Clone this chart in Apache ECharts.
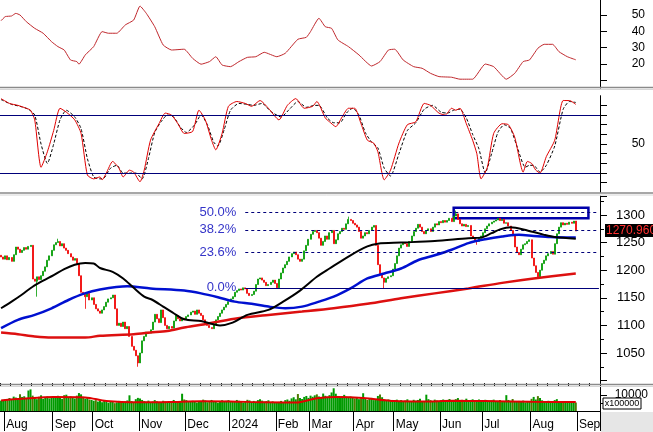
<!DOCTYPE html>
<html><head><meta charset="utf-8">
<script src="https://cdn.jsdelivr.net/npm/echarts@6/dist/echarts.min.js"></script>
<style>html,body{margin:0;padding:0;background:#fff}#c{width:653px;height:432px}</style>
</head><body><div id="c"></div><script>
// ---- categories (trading days per month) ----
const monthLabels = ['', 'Aug','Sep','Oct','Nov','Dec','2024','Feb','Mar','Apr','May','Jun','Jul','Aug','Sep'];
const monthDays   = [2, 23, 19, 22, 22, 21, 22, 16, 21, 19, 22, 20, 23, 22, 11];

// ---- daily closes ----
const closes = [
1224,1220,1226,1219,1223,1216,1228,1242,1238,1232,
1236,1241,1238,1243,1245,1184,1180,1188,1183,1190,
1198,1206,1218,1226,1236,1246,1250,1252,1244,1248,
1240,1236,1230,1224,1218,1221,1212,1190,1160,1156,
1152,1158,1146,1150,1138,1130,1126,1122,1128,1134,
1142,1148,1150,1155,1130,1100,1104,1098,1106,1094,
1098,1080,1062,1055,1045,1032,1050,1072,1080,1088,
1086,1092,1106,1120,1112,1105,1128,1114,1100,1094,
1098,1095,1108,1118,1112,1108,1113,1110,1116,1119,
1124,1126,1120,1128,1122,1118,1110,1104,1100,1096,
1094,1102,1110,1116,1122,1128,1133,1138,1143,1148,
1152,1160,1163,1166,1164,1168,1166,1158,1154,1156,
1162,1174,1184,1186,1182,1178,1172,1174,1178,1182,
1176,1168,1184,1195,1204,1210,1216,1224,1230,1233,
1228,1220,1216,1220,1235,1245,1256,1265,1270,1272,
1268,1258,1245,1252,1262,1256,1268,1272,1248,1255,
1266,1270,1276,1274,1284,1292,1290,1285,1282,1278,
1270,1258,1262,1268,1266,1272,1278,1281,1245,1210,
1192,1186,1178,1185,1188,1190,1202,1212,1226,1240,
1246,1250,1248,1243,1252,1262,1270,1276,1283,1278,
1270,1266,1272,1275,1270,1278,1284,1282,1288,1286,
1290,1287,1290,1294,1288,1298,1302,1292,1284,1280,
1283,1279,1281,1262,1258,1254,1252,1258,1262,1268,
1275,1280,1284,1287,1289,1291,1294,1290,1292,1285,
1286,1280,1272,1262,1242,1232,1228,1238,1246,1248,
1252,1255,1222,1208,1196,1188,1200,1212,1218,1226,
1230,1234,1229,1248,1266,1278,1286,1282,1285,1283,
1287,1285,1289,1270.96];
const lowWicks  = [[17,1152],[40,1130],[65,1025],[182,1167],[226,1246],[255,1186]];
const highWicks = [[27,1257],[165,1297],[216,1308]];

// ---- moving averages [dayIndex, value] ----
const ma50 = [[0,1131],[5,1143],[10,1156],[15,1170],[20,1181],[25,1191],[30,1202],[35,1210],[40,1213],[44,1212],[47,1204],[53,1197],[58,1185],[63,1168],[68,1152],[72,1146],[77,1134],[82,1122],[87,1111],[95,1108],[104,1100],[110,1105],[117,1119],[127,1128],[134,1143],[142,1163],[150,1188],[156,1203],[166,1227],[174,1243],[179,1248],[190,1250],[206,1253],[222,1258],[228,1259],[233,1267],[237,1274],[242,1278],[250,1272],[258,1264],[263,1260],[273,1257]];
const ma100 = [[0,1095],[8,1110],[16,1119],[24,1131],[32,1146],[39,1157],[47,1165],[60,1171],[71,1167],[87,1163],[95,1158],[103,1151],[111,1143],[119,1139],[127,1134],[135,1131],[143,1134],[151,1143],[158,1152],[166,1167],[174,1185],[182,1194],[190,1203],[198,1218],[206,1227],[214,1237],[222,1249],[230,1256],[238,1261],[246,1264],[253,1262],[261,1260],[273,1259]];
const ma200 = [[0,1087],[8,1084],[16,1080],[24,1078],[40,1078],[47,1081],[63,1084],[71,1087],[79,1090],[87,1096],[95,1101],[111,1112],[127,1119],[143,1125],[158,1131],[174,1139],[190,1149],[206,1158],[222,1167],[238,1177],[253,1185],[273,1194]];

// ---- fibonacci levels & box ----
const fibPct   = ['50.0%','38.2%','23.6%','0.0%'];
const fibPrice = [1305, 1273, 1233, 1168];
const fibStartDay = 116;
const boxDays  = [215, 279];
const boxPrice = [1313, 1294];
const priceLabels = [1050, 1100, 1150, 1200, 1250, 1300];

// ---- top indicator (ADX-like) ----
const adx = [[0,46.5],[2,49],[5,49.4],[7,51],[9,50],[12,45.9],[16,41.8],[20,38.8],[24,33.6],[27,30.6],[30,28.5],[33,22.4],[36,21.4],[37,19.8],[40,25.5],[44,30.6],[48,39.8],[51,38.8],[55,38.8],[59,43.9],[63,46.9],[66,55.5],[69,51],[73,42.8],[77,31.6],[81,28.5],[87,29],[91,23.4],[95,19.8],[99,21.4],[102,24.4],[105,19.3],[109,18.3],[113,21.4],[117,24],[121,24.4],[125,27.1],[131,24.4],[135,26.5],[141,35.1],[145,36.3],[147,39.8],[151,48],[154,42.8],[157,41.8],[160,34.7],[165,30.6],[170,25.5],[176,18.7],[180,21.4],[184,28.5],[187,29],[191,22.4],[196,18.3],[200,17.3],[204,14.2],[208,12.2],[214,11.8],[218,10.6],[224,10.6],[230,19.9],[234,18.3],[240,10.6],[244,14.2],[248,21.4],[251,22.4],[255,29.6],[258,32],[262,32],[265,27.5],[269,24.4],[273,22.5]];

// ---- stochastic ----
const stochK = [[0,97],[4,92],[8,90],[12,87],[14,85],[16,75],[19,26],[22,42],[25,64],[28,87],[31,83],[35,75],[38,61],[41,18],[44,14],[47,16],[48,13],[50,20],[53,32],[56,25],[58,16],[61,23],[63,21],[66,11],[68,23],[71,54],[75,71],[78,82],[81,80],[84,71],[87,61],[91,63],[94,85],[97,75],[100,54],[102,44],[105,61],[108,89],[112,94],[116,92],[119,89],[123,95],[127,87],[132,75],[136,90],[140,97],[144,87],[148,89],[150,94],[154,77],[156,73],[159,68],[162,78],[165,87],[168,87],[171,71],[174,54],[177,51],[179,42],[182,13],[185,23],[189,51],[193,70],[197,73],[201,92],[204,90],[208,82],[211,80],[214,87],[216,85],[218,87],[221,71],[224,54],[226,40],[228,14],[231,26],[234,61],[238,71],[241,70],[244,57],[248,21],[250,32],[252,30],[254,23],[256,20],[259,37],[263,54],[267,95],[270,95],[273,91]];
const stochD = [[0,96],[5,91],[9,89],[13,86],[16,80],[19,50],[22,30],[25,50],[28,75],[31,85],[35,78],[38,66],[41,35],[44,16],[47,14],[49,15],[52,25],[55,28],[58,20],[61,20],[64,20],[67,14],[70,35],[73,62],[76,73],[79,80],[82,78],[85,68],[88,62],[92,70],[95,80],[98,70],[101,52],[103,48],[106,65],[109,85],[113,92],[117,91],[120,90],[124,92],[128,84],[133,78],[137,86],[141,94],[145,88],[149,90],[151,90],[155,77],[158,72],[161,72],[164,82],[167,87],[170,80],[173,62],[176,52],[179,46],[182,25],[185,17],[189,40],[193,64],[197,72],[201,86],[205,90],[209,83],[212,82],[215,85],[218,86],[221,77],[224,60],[227,45],[230,20],[233,40],[236,62],[239,70],[242,66],[245,48],[249,26],[251,28],[253,28],[256,21],[259,28],[263,48],[267,86],[270,94],[273,93]];
const stochBands = [80, 20];

// ---- volume (x100000, in thousands) ----
const volume = [
6.5,7.0,
7.2,6.8,8.1,7.5,9.0,8.4,7.7,10.5,8.8,9.2,8.0,12.8,13.5,9.6,8.2,7.4,8.9,9.8,7.6,8.3,9.1,7.9,8.5,
9.2,8.8,9.5,8.1,7.6,9.9,10.2,8.7,9.1,8.4,7.8,9.6,11.2,10.4,8.9,7.7,8.3,7.2,6.9,
6.4,6.8,5.9,6.2,5.5,6.7,5.8,5.2,6.1,5.6,4.9,5.4,6.3,5.7,5.1,5.9,6.6,9.8,6.2,5.5,7.4,8.2,
7.8,6.9,6.2,5.8,6.5,5.4,5.9,6.8,6.1,5.7,5.3,6.4,5.9,5.1,5.6,6.2,6.9,5.8,5.4,6.0,10.8,7.2,
6.8,6.1,5.7,6.4,5.9,5.3,6.2,5.8,7.1,6.6,5.5,6.0,6.9,6.3,5.7,5.2,6.1,6.7,5.9,6.4,6.8,
5.8,6.2,5.6,6.9,6.4,5.9,5.3,6.1,7.0,6.6,5.7,6.3,5.8,6.8,7.4,6.5,5.9,6.2,6.7,5.6,6.0,5.4,
5.2,5.7,6.3,5.5,6.8,7.2,6.4,7.9,8.6,7.3,10.6,8.1,7.5,8.8,9.4,8.2,
9.6,8.9,9.8,10.4,9.1,8.7,10.9,9.5,8.8,9.9,11.6,14.2,10.8,9.4,8.6,9.2,10.1,8.9,8.3,9.0,8.5,
7.9,8.6,7.4,8.1,11.1,7.7,6.9,7.5,8.2,6.8,7.3,9.4,10.3,8.6,7.1,6.6,7.2,6.4,6.9,
6.5,7.1,6.3,6.8,5.9,6.6,7.3,6.2,5.8,7.0,6.4,6.9,7.6,6.1,5.7,10.2,7.4,6.8,6.3,7.1,6.6,6.0,
6.7,7.2,6.4,6.9,7.5,6.2,6.8,7.4,8.1,6.6,7.0,6.5,7.7,6.3,6.9,7.3,6.1,6.8,7.2,6.6,
6.4,7.0,6.2,5.8,6.6,7.1,5.9,6.3,6.8,5.6,6.1,9.9,6.9,6.4,7.5,6.0,5.7,6.3,5.9,6.5,5.4,6.0,5.8,
7.6,8.8,7.2,9.3,8.1,6.7,6.2,5.8,6.4,5.5,5.9,6.8,7.4,6.1,5.7,6.2,5.4,5.9,5.2,5.6,5.0,5.3];
const volMA = [[0,6.6],[10,7.6],[25,8.7],[40,8.5],[50,6.2],[66,5.4],[80,5.6],[95,6.1],[109,6.0],[125,5.4],[140,5.3],[150,8.0],[160,8.8],[172,8.2],[187,6.2],[200,5.9],[215,6.4],[230,6.2],[252,5.8],[273,5.6]];

// ---- build ----
const cats = [];
monthLabels.forEach((m, k) => { for (let d = 0; d < monthDays[k]; d++) cats.push(k + '_' + d); });
const isMonthStart = (idx, val) => { const p = String(val).split('_'); return p[1] === '0' && monthLabels[+p[0]] !== ''; };
const lw = {}; lowWicks.forEach(([i, v]) => lw[i] = v);
const hw = {}; highWicks.forEach(([i, v]) => hw[i] = v);
const ohlc = closes.map((c, i) => {
  const o = i === 0 ? c + 3 : closes[i - 1];
  let lo = Math.min(o, c), hi = Math.max(o, c);
  if (lw[i] !== undefined) lo = lw[i];
  if (hw[i] !== undefined) hi = hw[i];
  return [o, c, lo, hi];
});
const volData = volume.map((v, i) => ({ value: v, itemStyle: { color: (i > 0 && closes[i] < closes[i - 1] && i % 3 === 0) ? '#4d7a00' : '#009a00' } }));
const lastClose = closes[closes.length - 1];

const FONT = 'Liberation Sans, Arial, sans-serif';
const hiddenX = (g) => ({ type: 'category', gridIndex: g, data: cats, boundaryGap: true, axisLine: { show: false }, axisTick: { show: false }, axisLabel: { show: false }, splitLine: { show: false } });
const rightY = (g, extra) => Object.assign({
  type: 'value', gridIndex: g, position: 'right', scale: false,
  axisLine: { show: true, lineStyle: { color: '#000', width: 1 } },
  axisTick: { show: true, inside: false, length: 7, lineStyle: { color: '#000' } },
  splitLine: { show: false }
}, extra);
const lbl = (fs, margin, fmt) => ({ show: true, align: 'right', margin: margin, color: '#000', fontSize: fs, fontFamily: FONT, showMinLabel: false, showMaxLabel: false, formatter: fmt });

const grids = [
  { left: 0, top: 0, width: 600, height: 88 },
  { left: 0, top: 95.7, width: 600, height: 96.7 },
  { left: 0, top: 196, width: 600, height: 188 },
  { left: 0, top: 387, width: 600, height: 24 }
].map(g => Object.assign(g, { containLabel: false, outerBoundsMode: 'none' }));

const option = {
  animation: false,
  backgroundColor: '#fff',
  grid: grids,
  xAxis: [
    hiddenX(0), hiddenX(1), hiddenX(2),
    { type: 'category', gridIndex: 3, data: cats, boundaryGap: true,
      axisLine: { show: true, lineStyle: { color: '#000', width: 1 } },
      axisTick: { show: true, interval: isMonthStart, length: 20, lineStyle: { color: '#000', width: 1 } },
      axisLabel: { show: true, interval: isMonthStart, align: 'left', margin: 8, padding: [0, 0, 0, 1], color: '#000', fontSize: 12, fontFamily: FONT,
        formatter: v => monthLabels[+String(v).split('_')[0]] },
      splitLine: { show: false } },
    { type: 'category', gridIndex: 3, data: cats, boundaryGap: true,
      axisLine: { show: false },
      axisTick: { show: true, interval: (i) => i % 5 === 0, length: 4, lineStyle: { color: '#000' } },
      axisLabel: { show: false }, splitLine: { show: false } }
  ],
  yAxis: [
    rightY(0, { min: 5.2, max: 59.2, splitNumber: 5,
      axisLabel: lbl(12, 45, v => (v >= 20 && v <= 50 && v % 10 === 0) ? String(v) : '') }),
    rightY(1, { min: 0, max: 100, interval: 10,
      axisLabel: lbl(12, 45, v => v === 50 ? '50' : '') }),
    rightY(2, { min: 993.8, max: 1334.4, splitNumber: 7,
      minorTick: { show: true, splitNumber: 2, length: 4, lineStyle: { color: '#000' } },
      axisLabel: lbl(13, 45, v => priceLabels.indexOf(Math.round(v)) >= 0 ? String(Math.round(v)) : '') }),
    rightY(3, { min: 0, max: 15, interval: 5,
      axisLabel: lbl(12, 48, v => v === 10 ? '10000' : '') })
  ],
  series: [
    { name: 'ADX', type: 'line', xAxisIndex: 0, yAxisIndex: 0, data: adx, symbol: 'none', smooth: 0.15,
      lineStyle: { color: '#c0282d', width: 1 } },
    { name: '%K', type: 'line', xAxisIndex: 1, yAxisIndex: 1, data: stochK, symbol: 'none', smooth: 0.2,
      lineStyle: { color: '#e00000', width: 1 }, z: 3,
      markLine: { silent: true, symbol: 'none', label: { show: false },
        lineStyle: { color: '#00007a', width: 1, type: 'solid' },
        data: stochBands.map(v => ({ yAxis: v })) } },
    { name: '%D', type: 'line', xAxisIndex: 1, yAxisIndex: 1, data: stochD, symbol: 'none', smooth: 0.2,
      lineStyle: { color: '#000', width: 1, type: [3, 2] }, z: 2 },
    { name: 'Price', type: 'candlestick', xAxisIndex: 2, yAxisIndex: 2, data: ohlc, barWidth: 1.5,
      itemStyle: { color: '#009a00', color0: '#f00000', borderColor: '#009a00', borderColor0: '#f00000', borderWidth: 0.8 },
      markLine: { silent: true, symbol: 'none', animation: false,
        label: { show: true, position: 'start', distance: 9, color: '#3434c8', fontSize: 13, fontFamily: FONT },
        data: fibPrice.map((p, k) => [
          { xAxis: fibStartDay, yAxis: p, label: { formatter: fibPct[k] },
            lineStyle: { color: '#00007a', width: 1, type: k === fibPrice.length - 1 ? 'solid' : [3, 3] } },
          { xAxis: cats.length - 1, yAxis: p }
        ]) },
      markArea: { silent: true, label: { show: false },
        itemStyle: { color: 'rgba(0,0,0,0)', borderColor: '#0000aa', borderWidth: 2.5 },
        data: [[{ xAxis: boxDays[0], yAxis: boxPrice[0] }, { xAxis: boxDays[1], yAxis: boxPrice[1] }]] } },
    { name: 'MA200', type: 'line', xAxisIndex: 2, yAxisIndex: 2, data: ma200, symbol: 'none', smooth: 0.3,
      lineStyle: { color: '#dd1010', width: 2.5 }, z: 4 },
    { name: 'MA100', type: 'line', xAxisIndex: 2, yAxisIndex: 2, data: ma100, symbol: 'none', smooth: 0.3,
      lineStyle: { color: '#0010d0', width: 2.5 }, z: 4 },
    { name: 'MA50', type: 'line', xAxisIndex: 2, yAxisIndex: 2, data: ma50, symbol: 'none', smooth: 0.3,
      lineStyle: { color: '#000', width: 2 }, z: 5 },
    { name: 'Volume', type: 'bar', xAxisIndex: 3, yAxisIndex: 3, data: volData, barWidth: 2 },
    { name: 'VolMA', type: 'line', xAxisIndex: 3, yAxisIndex: 3, data: volMA, symbol: 'none', smooth: 0.3,
      lineStyle: { color: '#e00000', width: 2 }, z: 4 }
  ]
};

const chart = echarts.init(document.getElementById('c'), null, { renderer: 'canvas' });
chart.setOption(option);

const yp = chart.convertToPixel({ yAxisIndex: 2 }, lastClose);
const hline = (y, color, w) => ({ type: 'line', z: 100, shape: { x1: 0, y1: y, x2: 653, y2: y }, style: { stroke: color, lineWidth: w } });
chart.setOption({ graphic: [
  hline(87.5, '#8a8a8a', 1.5), hline(89.5, '#d6d6d6', 1),
  hline(193, '#8a8a8a', 1.5), hline(195, '#d6d6d6', 1),
  hline(384.5, '#8a8a8a', 1.5), hline(386.5, '#d6d6d6', 1),
  { type: 'rect', z: 100, shape: { x: 601, y: 412, width: 52, height: 20 }, style: { fill: '#e6e6e6' } },
  { type: 'rect', z: 100, shape: { x: 603, y: 398, width: 38, height: 11 }, style: { fill: '#fff', stroke: '#000', lineWidth: 1 } },
  { type: 'text', z: 101, x: 622, y: 403.5, style: { text: 'x100000', font: '9px ' + FONT, fill: '#000', align: 'center', verticalAlign: 'middle', textAlign: 'center', textVerticalAlign: 'middle' } },
  { type: 'rect', z: 100, shape: { x: 605, y: yp - 7, width: 50, height: 13 }, style: { fill: '#000' } },
  { type: 'text', z: 101, x: 606, y: yp - 0.5, style: { text: lastClose.toFixed(3), font: '12px ' + FONT, fill: '#ff3030', align: 'left', verticalAlign: 'middle', textAlign: 'left', textVerticalAlign: 'middle' } }
] });
</script></body></html>
